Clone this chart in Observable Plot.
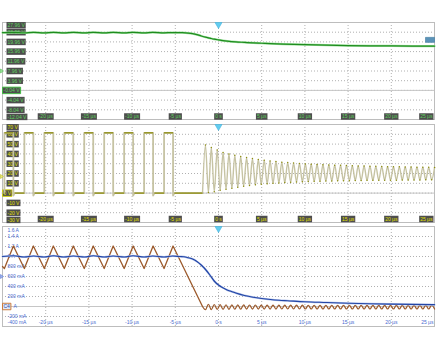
<!DOCTYPE html>
<html><head><meta charset="utf-8">
<script src="https://cdn.jsdelivr.net/npm/d3@7"></script>
<script src="https://cdn.jsdelivr.net/npm/@observablehq/plot@0.6"></script>
<style>
body{margin:0;background:#fff;}
#wrap{position:relative;width:438px;height:345px;overflow:hidden;background:#fff;}
</style></head><body><div id="wrap"></div>
<script>
// ---------------- data ----------------
const timeTicks = [-20, -15, -10, -5, 0, 5, 10, 15, 20, 25];
const timeLabels = ["-20 µs","-15 µs","-10 µs","-5 µs","0 s","5 µs","10 µs","15 µs","20 µs","25 µs"];

const ch1Ticks = [27.96, 23.96, 19.96, 15.96, 11.96, 7.96, 3.96, -0.04, -4.04, -8.04, -12.04];
const ch1Labels = ["27.96 V","23.96 V","19.96 V","15.96 V","11.96 V","7.96 V","3.96 V","-0.04 V","-4.04 V","-8.04 V","-12.04 V"];
const ch2Ticks = [70, 60, 50, 40, 30, 20, 10, 0, -10, -20, -30];
const ch2Labels = ["70 V","60 V","50 V","40 V","30 V","20 V","10 V","0 V","-10 V","-20 V","-30 V"];
const ch4Ticks = [1.6, 1.4, 1.2, 1.0, 0.8, 0.6, 0.4, 0.2, 0, -0.2, -0.4];
const ch4Labels = ["1.6 A","1.4 A","1.2 A","1 A","800 mA","600 mA","400 mA","200 mA","0 A","-200 mA","-400 mA"];

// Channel 1: output voltage (V)
const voutT = [-25,-23.7,-22.5,-21.4,-20.2,-19.1,-17.9,-16.8,-15.5,-14.5,-13.2,-12.2,-10.9,-9.9,-8.6,-7.6,-6.3,-5.3,-4.2,-3.5,-3,-2.5,-2,-1.5,-1,-0.5,0,1,2,3,4,5,6,7.5,10,12.5,15,17.5,20,22.5,25];
const voutV = [23.75,23.9,23.7,23.85,23.65,23.85,23.7,23.9,23.7,23.85,23.65,23.85,23.7,23.9,23.7,23.85,23.7,23.8,23.75,23.6,23.35,22.95,22.4,21.9,21.5,21.1,20.8,20.3,19.95,19.75,19.55,19.4,19.25,19.05,18.8,18.6,18.45,18.35,18.3,18.25,18.2];

// Channel 2: switch node voltage (V)
const swRise = [-24.78,-22.47,-20.16,-17.85,-15.54,-13.23,-10.92,-8.61,-6.30];
const swFall = [-23.74,-21.43,-19.12,-16.81,-14.50,-12.19,-9.88,-7.57,-5.26];
const swHigh = 61.5, swLow = 0, swDip = -2.5;
const ringStart = -1.85, ringHalfPeriod = 0.34;
const ringPeaksV = [49,46.5,44,41.5,40,38.5,37.3,36.2,35.2,34.3,33.5,32.8,32.2,31.6,31.1,30.6,30.2,29.8,29.5,29.2,28.9,28.7,28.5,28.3,28.1,27.9,27.7,27.6,27.4,27.3,27.2,27.0,26.9,26.8,26.7,26.6,26.5,26.4,26.3,26.2];
const ringTroughsV = [0.5,1.5,2.8,4.0,5.0,6.0,6.9,7.7,8.4,9.0,9.5,10.0,10.4,10.8,11.1,11.4,11.6,11.8,12.0,12.2,12.3,12.4,12.5,12.6,12.7,12.8,12.9,13.0,13.0,13.1,13.1,13.2,13.2,13.3,13.3,13.4,13.4,13.5,13.5];

// Channel 4: inductor current (A, brown) and output current (A, blue)
const ilStartA = 0.8, ilPeakA = 1.21, ilValleyA = 0.76;
const ilRingTroughsA = [-0.065,-0.062,-0.06,-0.058,-0.056,-0.055,-0.055,-0.054,-0.053,-0.052,-0.052,-0.051,-0.051,-0.05,-0.05,-0.05,-0.05,-0.05,-0.05,-0.05,-0.05,-0.05,-0.05,-0.05,-0.05,-0.05,-0.05,-0.05,-0.05,-0.05,-0.05,-0.05,-0.05,-0.05,-0.05,-0.05,-0.05,-0.05,-0.05,-0.05];
const ilRingPeaksA = [0.045,0.04,0.038,0.035,0.033,0.032,0.031,0.03,0.03,0.029,0.028,0.028,0.027,0.027,0.026,0.026,0.026,0.025,0.025,0.025,0.025,0.025,0.025,0.025,0.025,0.025,0.025,0.025,0.025,0.025,0.025,0.025,0.025,0.025,0.025,0.025,0.025,0.025,0.025];
const ioutT = [-25,-23.7,-22.5,-21.4,-20.2,-19.1,-17.9,-16.8,-15.5,-14.5,-13.2,-12.2,-10.9,-9.9,-8.6,-7.6,-6.3,-5.3,-4.5,-4,-3.5,-3,-2.5,-2,-1.5,-1,-0.5,0,0.5,1,1.5,2,3,4,5,6,7,8,10,12.5,15,17.5,20,22.5,25];
const ioutA = [1.0,1.015,0.99,1.01,0.99,1.015,0.99,1.01,0.99,1.015,0.99,1.01,0.99,1.015,0.99,1.01,0.99,1.01,1.0,0.995,0.975,0.95,0.9,0.83,0.74,0.63,0.51,0.43,0.375,0.33,0.3,0.27,0.22,0.185,0.16,0.14,0.125,0.115,0.095,0.08,0.065,0.055,0.048,0.042,0.037];

// ---------------- tables built from the arrays ----------------
const vout = voutT.map((t, i) => ({t, v: voutV[i]}));
const sw = [{t: -25, v: swLow}];
const swFlat = [{t1: -25, t2: swRise[0], v: swLow}];
swRise.forEach((r, i) => {
  const f = swFall[i];
  sw.push({t: r, v: swLow}, {t: r, v: swHigh}, {t: f, v: swHigh}, {t: f, v: swDip}, {t: f + 0.15, v: swLow});
  swFlat.push({t1: r, t2: f, v: swHigh});
  swFlat.push({t1: f + 0.15, t2: i + 1 < swRise.length ? swRise[i + 1] : ringStart, v: swLow});
});
sw.push({t: ringStart, v: swLow});
const ring = [{t: ringStart, v: swLow}];
const nExt = ringPeaksV.length + ringTroughsV.length;
for (let k = 1; k <= nExt; k++) ring.push({t: ringStart + k * ringHalfPeriod, v: k % 2 ? ringPeaksV[(k - 1) / 2] : ringTroughsV[k / 2 - 1]});

const il = [{t: -25, a: ilStartA}];
swRise.forEach((r, i) => { il.push({t: r, a: ilValleyA}, {t: swFall[i], a: ilPeakA}); });
il.push({t: ringStart, a: 0});
const ilRing = [{t: ringStart, a: 0}];
const nExtI = ilRingTroughsA.length + ilRingPeaksA.length;
for (let k = 1; k <= nExtI; k++) ilRing.push({t: ringStart + k * ringHalfPeriod, a: k % 2 ? ilRingTroughsA[(k - 1) / 2] : ilRingPeaksA[k / 2 - 1]});
const iout = ioutT.map((t, i) => ({t, a: ioutA[i]}));

// ---------------- drawing helpers ----------------
const W = 438;
const FONT = 5;
const FAMILY = "Liberation Sans, Arial, sans-serif";
const ctx2d = document.createElement("canvas").getContext("2d");
ctx2d.font = FONT + "px " + FAMILY;
const tw = s => ctx2d.measureText(s).width;
const rectSym = (w, h) => ({draw(c) { c.moveTo(-w / 2, -h / 2); c.lineTo(w / 2, -h / 2); c.lineTo(w / 2, h / 2); c.lineTo(-w / 2, h / 2); c.closePath(); }});
const triDown = (w, h) => ({draw(c) { c.moveTo(-w / 2, -h / 2); c.lineTo(w / 2, -h / 2); c.lineTo(0, h / 2); c.closePath(); }});
const triRight = (w, h) => ({draw(c) { c.moveTo(-w / 2, -h / 2); c.lineTo(w / 2, 0); c.lineTo(-w / 2, h / 2); c.closePath(); }});

function boxed(rows, {fill = "#4e4e4e", color, h = 6.5}) {
  const marks = [];
  rows.forEach(r => {
    const w = tw(r.text) + 2;
    const cdx = r.align === "left" ? r.dx + w / 2 : r.align === "right" ? r.dx - w / 2 : r.dx;
    marks.push(Plot.dot([r], {x: "x", y: "y", dx: cdx, dy: r.dy, symbol: rectSym(w, h), fill, stroke: r.stroke || "none", strokeWidth: 0.9}));
    marks.push(Plot.text([r], {x: "x", y: "y", text: "text", dx: cdx, dy: r.dy + 0.2, fill: color, fontSize: FONT, fontFamily: FAMILY, textAnchor: "middle"}));
  });
  return marks;
}
const dotted = {stroke: "#9c9c9c", strokeWidth: 0.8, strokeDasharray: "1,2"};
function grid(yTicks) {
  return [
    Plot.ruleX(timeTicks.filter(t => t < 25), dotted),
    Plot.ruleY(yTicks.slice(1, -1), dotted)
  ];
}
function trigger(yTop) {
  return Plot.dot([{t: 0, y: yTop}], {x: "t", y: "y", dy: 3, symbol: triDown(7, 6), fill: "#62cdf0", stroke: "#3fb0dc", strokeWidth: 0.6});
}
const wrap = document.getElementById("wrap");
function makePanel(top, height, mt, mb, domain, marks) {
  const svg = Plot.plot({
    width: W, height, marginLeft: 2, marginRight: 4, marginTop: mt, marginBottom: mb,
    x: {domain: [-25, 25], axis: null},
    y: {domain, axis: null},
    style: {background: "transparent", overflow: "visible", fontFamily: FAMILY},
    marks
  });
  svg.style.position = "absolute";
  svg.style.left = "0px";
  svg.style.top = top + "px";
  wrap.appendChild(svg);
}
function yRows(ticks, labels, dxLeft) {
  return ticks.map((v, i) => ({x: -25, y: v, text: labels[i], dx: dxLeft, align: "left",
    dy: i === 0 ? 2.8 : i === ticks.length - 1 ? -2.6 : 0}));
}
function tRows(yBottom, dy) {
  return timeTicks.map((t, i) => ({x: t, y: yBottom, text: timeLabels[i], dy, dx: t === 25 ? -1 : 0, align: t === 25 ? "right" : "center"}));
}

// ---------------- panel 1 : output voltage ----------------
const green = "#1f8c1f", greenTxt = "#5fd25f";
const rows1 = yRows(ch1Ticks, ch1Labels, 4);
rows1[7].dx = 0; rows1[7].stroke = "#3cc03c";
makePanel(0, 122, 22, 3, [-12.04, 27.96], [
  ...grid(ch1Ticks),
  Plot.ruleY([-0.04], {stroke: "#c6c6c6"}),
  Plot.frame({stroke: "#bdbdbd"}),
  ...boxed(rows1, {color: greenTxt}),
  ...boxed(tRows(-12.04, -3), {color: greenTxt}),
  Plot.dot([{x: -25, y: 7.96}], {x: "x", y: "y", dx: -0.5, symbol: triRight(3, 4), fill: "#9be39b", stroke: "#3cb43c", strokeWidth: 0.5}),
  Plot.dot([{x: 25, y: 20.8}], {x: "x", y: "y", dx: -4.5, symbol: rectSym(9, 5), fill: "#5b93b8", stroke: "#3f7aa0", strokeWidth: 0.6}),
  Plot.line(vout, {x: "t", y: "v", stroke: "#9ee09e", strokeWidth: 2.2, curve: "monotone-x"}),
  Plot.line(vout, {x: "t", y: "v", stroke: green, strokeWidth: 1.2, curve: "monotone-x"}),
  trigger(27.96)
]);

// ---------------- panel 2 : switch node voltage ----------------
const olive = "#8e8e12", beige = "#c6c3a3", yellowTxt = "#e2e000";
const rows2 = yRows(ch2Ticks, ch2Labels, 4);
rows2[7].dx = 0; rows2[7].stroke = "#d6d600";
makePanel(120, 105, 4, 3, [-30, 70], [
  ...grid(ch2Ticks),
  Plot.ruleY([0], {stroke: "#c6c6c6"}),
  Plot.frame({stroke: "#bdbdbd"}),
  ...boxed(rows2, {color: yellowTxt}),
  ...boxed(tRows(-30, -3.5), {color: yellowTxt}),
  Plot.dot([{x: -25, y: 20}], {x: "x", y: "y", dx: -0.5, dy: 3, symbol: triRight(3, 4), fill: "#e8e87a", stroke: "#b0b000", strokeWidth: 0.5}),
  Plot.line(sw, {x: "t", y: "v", stroke: beige, strokeWidth: 1.8}),
  Plot.line(ring, {x: "t", y: "v", stroke: beige, strokeWidth: 1.4, curve: "monotone-x"}),
  Plot.link(swFlat, {x1: "t1", x2: "t2", y1: "v", y2: "v", stroke: olive, strokeWidth: 1.3}),
  Plot.dot(ring.slice(1), {x: "t", y: "v", r: 0.75, fill: olive, stroke: "none"}),
  trigger(70)
]);

// ---------------- panel 3 : currents ----------------
const brown = "#9c5a2c", blue = "#2346a6", blueTxt = "#4a6bd0";
const rows3 = ch4Ticks.map((v, i) => ({x: -25, y: v, text: ch4Labels[i], dy: i === 0 ? 3.5 : i === ch4Ticks.length - 1 ? -3.8 : 0}))
  .filter(r => r.y !== 0);
const tRows3 = timeTicks.map((t, i) => ({x: t, y: -0.4, text: timeLabels[i]}));
makePanel(223, 122, 3, 19, [-0.4, 1.6], [
  ...grid(ch4Ticks),
  Plot.ruleY([0], {stroke: "#c6c6c6"}),
  Plot.frame({stroke: "#bdbdbd"}),
  Plot.text(rows3.filter(r => r.dy === 0), {x: "x", y: "y", text: "text", dx: 5, fill: blueTxt, fontSize: FONT, fontFamily: FAMILY, textAnchor: "start"}),
  Plot.text(rows3.slice(0, 1), {x: "x", y: "y", text: "text", dx: 5, dy: 3.5, fill: blueTxt, fontSize: FONT, fontFamily: FAMILY, textAnchor: "start"}),
  Plot.text(rows3.slice(-1), {x: "x", y: "y", text: "text", dx: 5, dy: -3.8, fill: blueTxt, fontSize: FONT, fontFamily: FAMILY, textAnchor: "start"}),
  Plot.text(tRows3.filter(d => d.x < 25), {x: "x", y: "y", text: "text", dy: -3.8, fill: blueTxt, fontSize: FONT, fontFamily: FAMILY, textAnchor: "middle"}),
  Plot.text(tRows3.filter(d => d.x === 25), {x: "x", y: "y", text: "text", dx: -1, dy: -3.8, fill: blueTxt, fontSize: FONT, fontFamily: FAMILY, textAnchor: "end"}),
  ...boxed([{x: -25, y: 0, text: "C4", dx: 0, dy: 0, align: "left", stroke: "#c8702a"}], {fill: "#dfe7f6", color: "#2a4aa8"}),
  Plot.text([{x: -25, y: 0, text: "A"}], {x: "x", y: "y", text: "text", dx: 11, fill: blueTxt, fontSize: FONT, fontFamily: FAMILY, textAnchor: "start"}),
  Plot.dot([{x: -25, y: 0.6}], {x: "x", y: "y", dx: -0.5, symbol: triRight(3, 4), fill: "#9fb3ea", stroke: blueTxt, strokeWidth: 0.5}),
  Plot.line(il, {x: "t", y: "a", stroke: brown, strokeWidth: 1.3}),
  Plot.line(ilRing, {x: "t", y: "a", stroke: brown, strokeWidth: 1.2, curve: "monotone-x"}),
  Plot.line(iout, {x: "t", y: "a", stroke: "#b4c3ea", strokeWidth: 2.0, curve: "monotone-x"}),
  Plot.line(iout, {x: "t", y: "a", stroke: blue, strokeWidth: 1.2, curve: "monotone-x"}),
  trigger(1.6)
]);
</script></body></html>
